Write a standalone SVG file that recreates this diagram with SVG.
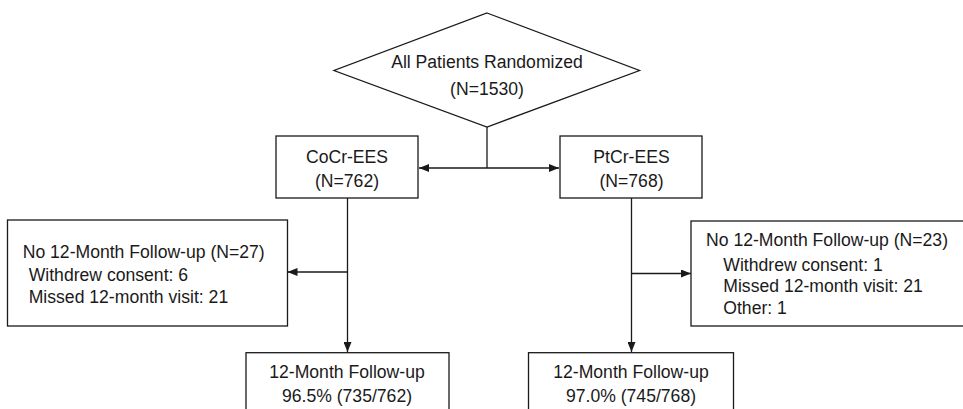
<svg xmlns="http://www.w3.org/2000/svg" width="963" height="409" viewBox="0 0 963 409">
<style>
.box{fill:#fff;stroke:#1a1a1a;stroke-width:1.3}
.ln{fill:none;stroke:#1a1a1a;stroke-width:1.3}
text{font-family:"Liberation Sans",Arial,sans-serif;font-size:17.6px;fill:#1a1a1a}
.c{text-anchor:middle}
</style>
<defs>
<marker id="ah" markerWidth="10" markerHeight="8" refX="10" refY="4" orient="auto" markerUnits="userSpaceOnUse">
<path d="M0,0 L10,4 L0,8 Z" fill="#1a1a1a"/>
</marker>
</defs>
<rect width="963" height="409" fill="#fff"/>
<g id="connectors">
<path class="ln" d="M487,127 V168"/>
<path class="ln" d="M487,168 H419" marker-end="url(#ah)"/>
<path class="ln" d="M487,168 H559" marker-end="url(#ah)"/>
<path class="ln" d="M347.5,198 V352" marker-end="url(#ah)"/>
<path class="ln" d="M347.5,272 H287.5" marker-end="url(#ah)"/>
<path class="ln" d="M631.5,198 V352" marker-end="url(#ah)"/>
<path class="ln" d="M631.5,273.5 H691" marker-end="url(#ah)"/>
</g>
<g id="randomized">
<polygon class="box" points="487,13 639.5,70.5 487,127 334,70.5"/>
<text class="c" x="487" y="68">All Patients Randomized</text>
<text class="c" x="487" y="94.5">(N=1530)</text>
</g>
<g id="cocr">
<rect class="box" x="276" y="136" width="142" height="62"/>
<text class="c" x="347" y="163">CoCr-EES</text>
<text class="c" x="347" y="187">(N=762)</text>
</g>
<g id="ptcr">
<rect class="box" x="560" y="136" width="142" height="62"/>
<text class="c" x="631.5" y="163">PtCr-EES</text>
<text class="c" x="631.5" y="187">(N=768)</text>
</g>
<g id="nofollow-left">
<rect class="box" x="7.5" y="220" width="280" height="106"/>
<text x="22.7" y="257.5">No 12-Month Follow-up (N=27)</text>
<text x="28.7" y="280.5">Withdrew consent: 6</text>
<text x="28.7" y="302.5">Missed 12-month visit: 21</text>
</g>
<g id="nofollow-right">
<rect class="box" x="691" y="221" width="275" height="105"/>
<text x="706" y="245.7">No 12-Month Follow-up (N=23)</text>
<text x="723.3" y="270.7">Withdrew consent: 1</text>
<text x="723.3" y="292.3">Missed 12-month visit: 21</text>
<text x="723.3" y="314.3">Other: 1</text>
</g>
<g id="followup-left">
<rect class="box" x="246" y="352.7" width="203" height="70"/>
<text class="c" x="347" y="378">12-Month Follow-up</text>
<text class="c" x="347" y="402">96.5% (735/762)</text>
</g>
<g id="followup-right">
<rect class="box" x="528.5" y="352.7" width="205" height="70"/>
<text class="c" x="631" y="378">12-Month Follow-up</text>
<text class="c" x="631" y="402">97.0% (745/768)</text>
</g>
</svg>
